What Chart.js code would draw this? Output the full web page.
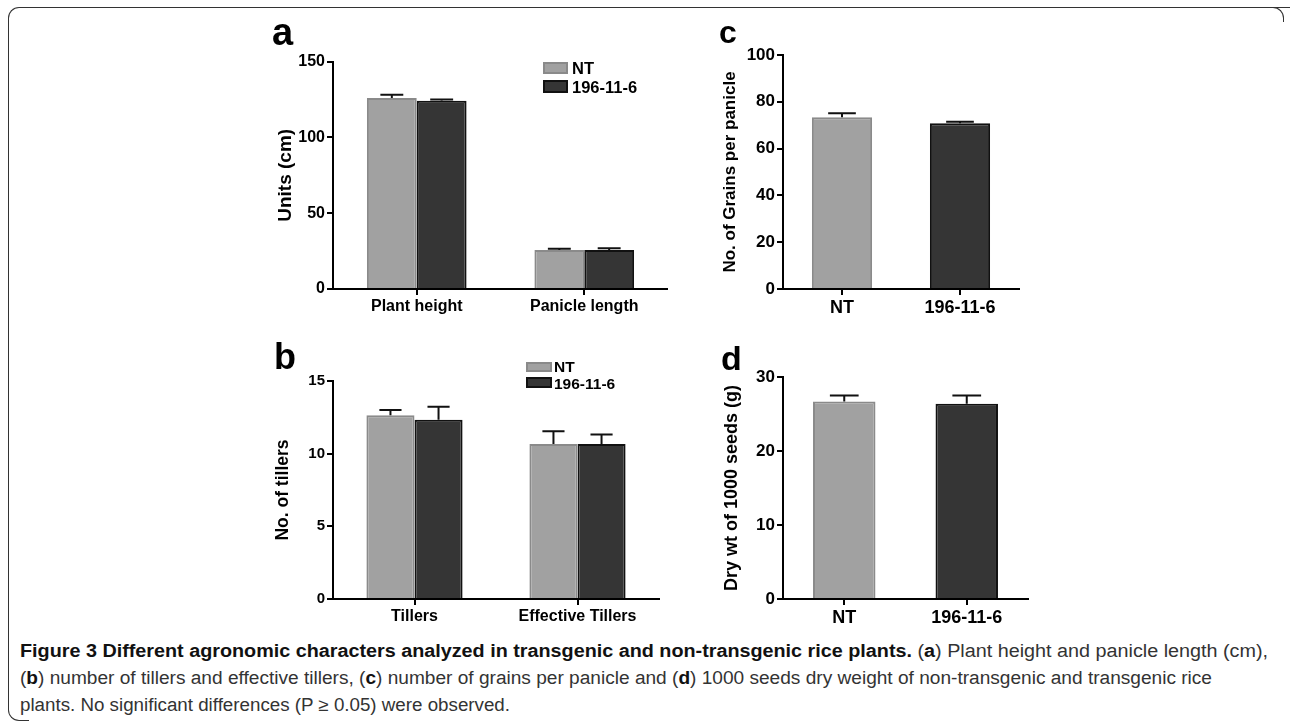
<!DOCTYPE html>
<html>
<head>
<meta charset="utf-8">
<script src="https://cdn.jsdelivr.net/npm/chart.js@4"></script>
<style>
  body { margin: 0; background: #fff; width: 1290px; height: 721px; overflow: hidden; position: relative;
         font-family: "Liberation Sans", Arial, sans-serif; }
  canvas { position: absolute; }
  .frame { position: absolute; left: 8px; top: 7px; width: 1300px; height: 30px;
           border-top: 1.5px solid #333; border-left: 1.5px solid #333; border-top-left-radius: 11px; }
  .frame-left { position: absolute; left: 8px; top: 30px; width: 20px; height: 690px;
                border-left: 1.5px solid #333; border-bottom: 1.5px solid #333; border-bottom-left-radius: 11px; }
  .frame-tr { position: absolute; left: 1270px; top: 7px; width: 13px; height: 14px;
              border-top: 1.5px solid #333; border-right: 1.5px solid #333; border-top-right-radius: 11px; }
  .plabel { position: absolute; font-weight: bold; line-height: 1; color: #000; }
  .lg-box { position: absolute; box-sizing: border-box; }
  .lg-txt { position: absolute; font-weight: bold; line-height: 1; color: #000; white-space: nowrap; }
  .cap { position: absolute; left: 20px; font-family: "Liberation Sans Narrow", "Liberation Sans", sans-serif;
         font-size: 18px; line-height: 27px; color: #333; white-space: nowrap; transform-origin: 0 50%; }
  .cap b { color: #111; }
</style>
</head>
<body>
<div class="frame"></div>
<div class="frame-left"></div>
<div class="frame-tr"></div>

<canvas id="chartA" width="408" height="270" style="left:260px;top:50px"></canvas>
<canvas id="chartB" width="400" height="260" style="left:260px;top:370px"></canvas>
<canvas id="chartC" width="330" height="280" style="left:700px;top:40px"></canvas>
<canvas id="chartD" width="340" height="270" style="left:700px;top:360px"></canvas>

<div id="labels"></div>

<div class="cap" id="cap1" style="top:638px"><b>Figure 3 Different agronomic characters analyzed in transgenic and non-transgenic rice plants.</b> (<b>a</b>) Plant height and panicle length (cm),</div>
<div class="cap" id="cap2" style="top:665px">(<b>b</b>) number of tillers and effective tillers, (<b>c</b>) number of grains per panicle and (<b>d</b>) 1000 seeds dry weight of non-transgenic and transgenic rice</div>
<div class="cap" id="cap3" style="top:692px">plants. No significant differences (P ≥ 0.05) were observed.</div>

<script>
// panel a
const heightLabels = ['Plant height', 'Panicle length'];
const heightNT = [126, 25.8];
const heightNTErr = [2.2, 0.8];
const heightTG = [124.2, 25.8];
const heightTGErr = [0.8, 1.0];

// panel b
const tillerLabels = ['Tillers', 'Effective Tillers'];
const tillerNT = [12.65, 10.67];
const tillerNTErr = [0.35, 0.87];
const tillerTG = [12.33, 10.67];
const tillerTGErr = [0.9, 0.65];

// panel c
const lineLabels = ['NT', '196-11-6'];
const grainValues = [73.4, 70.8];
const grainErr = [1.7, 0.7];

// panel d
const seedValues = [26.7, 26.4];
const seedErr = [0.8, 1.1];

const ntFill = '#a1a1a1', ntEdge = '#8a8a8a';
const tgFill = '#353535', tgEdge = '#111111';

const errorBars = {
  id: 'errorBars',
  afterDatasetsDraw(chart) {
    const ctx = chart.ctx;
    const y = chart.scales.y;
    chart.data.datasets.forEach((ds, i) => {
      chart.getDatasetMeta(i).data.forEach((bar, j) => {
        const top = y.getPixelForValue(ds.data[j] + ds.errors[j]);
        const half = bar.width * 0.23;
        ctx.save();
        ctx.strokeStyle = '#111';
        ctx.lineWidth = 2;
        ctx.beginPath();
        ctx.moveTo(bar.x, bar.y);
        ctx.lineTo(bar.x, top);
        ctx.moveTo(bar.x - half, top);
        ctx.lineTo(bar.x + half, top);
        ctx.stroke();
        ctx.restore();
      });
    });
  }
};

function makePanel(id, labels, datasets, o) {
  const font = (size) => ({ family: '"Liberation Sans", Arial, sans-serif', weight: 'bold', size: size });
  return new Chart(document.getElementById(id), {
    type: 'bar',
    data: { labels: labels, datasets: datasets },
    options: {
      responsive: false,
      animation: false,
      layout: { padding: o.padding },
      plugins: { legend: { display: false }, tooltip: { enabled: false } },
      datasets: { bar: { categoryPercentage: o.cat, barPercentage: 1, borderSkipped: 'bottom' } },
      scales: {
        x: {
          offset: true,
          grid: { offset: false, drawOnChartArea: false, drawTicks: true, tickLength: 6, color: '#000', lineWidth: 2 },
          border: { color: '#000', width: 2 },
          ticks: { color: '#000', font: font(o.xFont), padding: 2, maxRotation: 0 },
          afterFit: (s) => { s.height = 31; }
        },
        y: {
          min: 0, max: o.max,
          grid: { drawOnChartArea: false, drawTicks: true, tickLength: 6, color: '#000', lineWidth: 2 },
          border: { color: '#000', width: 2 },
          ticks: { stepSize: o.step, color: '#000', font: font(o.tickFont), padding: 2 },
          title: { display: true, text: o.title, color: '#000', font: font(o.titleFont) },
          afterFit: (s) => { s.width = o.yWidth; }
        }
      }
    },
    plugins: [errorBars]
  });
}

function pair(nt, ntErr, tg, tgErr) {
  return [
    { label: 'NT', data: nt, errors: ntErr, backgroundColor: ntFill, borderColor: ntEdge, borderWidth: 2 },
    { label: '196-11-6', data: tg, errors: tgErr, backgroundColor: tgFill, borderColor: tgEdge, borderWidth: 2 }
  ];
}

function single(values, errs) {
  return [{ label: 'Value', data: values, errors: errs,
            backgroundColor: [ntFill, tgFill], borderColor: [ntEdge, tgEdge], borderWidth: 2 }];
}

makePanel('chartA', heightLabels, pair(heightNT, heightNTErr, heightTG, heightTGErr), {
  padding: { left: 10, right: -21, top: 10, bottom: 0 }, yWidth: 63, cat: 0.595,
  max: 150, step: 50, title: 'Units (cm)', titleFont: 19, tickFont: 16, xFont: 16
});
makePanel('chartB', tillerLabels, pair(tillerNT, tillerNTErr, tillerTG, tillerTGErr), {
  padding: { left: 9, right: 1, top: 10, bottom: 0 }, yWidth: 64, cat: 0.59,
  max: 15, step: 5, title: 'No. of tillers', titleFont: 17.5, tickFont: 15, xFont: 16
});
makePanel('chartC', lineLabels, single(grainValues, grainErr), {
  padding: { left: 16, right: 11, top: 15, bottom: 0 }, yWidth: 67, cat: 0.51,
  max: 100, step: 20, title: 'No. of Grains per panicle', titleFont: 17, tickFont: 17, xFont: 18
});
makePanel('chartD', lineLabels, single(seedValues, seedErr), {
  padding: { left: 17, right: 12, top: 17, bottom: 0 }, yWidth: 66, cat: 0.51,
  max: 30, step: 10, title: 'Dry wt of 1000 seeds (g)', titleFont: 18, tickFont: 17, xFont: 18
});

// panel letters and legends
const holder = document.getElementById('labels');
function addText(cls, text, size, left, baseline) {
  const d = document.createElement('div');
  d.className = cls;
  d.textContent = text;
  d.style.fontSize = size + 'px';
  d.style.left = left + 'px';
  d.style.top = (baseline - 0.8465 * size) + 'px';
  holder.appendChild(d);
}
function addBox(left, top, w, h, fill, edge) {
  const d = document.createElement('div');
  d.className = 'lg-box';
  Object.assign(d.style, { left: left + 'px', top: top + 'px', width: w + 'px', height: h + 'px',
    background: fill, border: '2px solid ' + edge });
  holder.appendChild(d);
}
addText('plabel', 'a', 38, 272, 45);
addText('plabel', 'b', 36, 274, 369);
addText('plabel', 'c', 32, 719, 43);
addText('plabel', 'd', 34, 721, 370);

addBox(543, 62, 25, 12, ntFill, ntEdge);
addBox(543, 80, 25, 13, tgFill, tgEdge);
addText('lg-txt', 'NT', 16.5, 572, 74);
addText('lg-txt', '196-11-6', 16.5, 572, 93);

addBox(526, 362, 26, 10, ntFill, ntEdge);
addBox(526, 377, 26, 11, tgFill, tgEdge);
addText('lg-txt', 'NT', 15.5, 554, 372.5);
addText('lg-txt', '196-11-6', 15.5, 554, 389);

// caption lines stretched to the reference widths
[['cap1', 1248], ['cap2', 1192], ['cap3', 490]].forEach(([id, w]) => {
  const el = document.getElementById(id);
  const actual = el.getBoundingClientRect().width;
  el.style.transform = 'scaleX(' + (w / actual) + ')';
});
</script>
</body>
</html>
